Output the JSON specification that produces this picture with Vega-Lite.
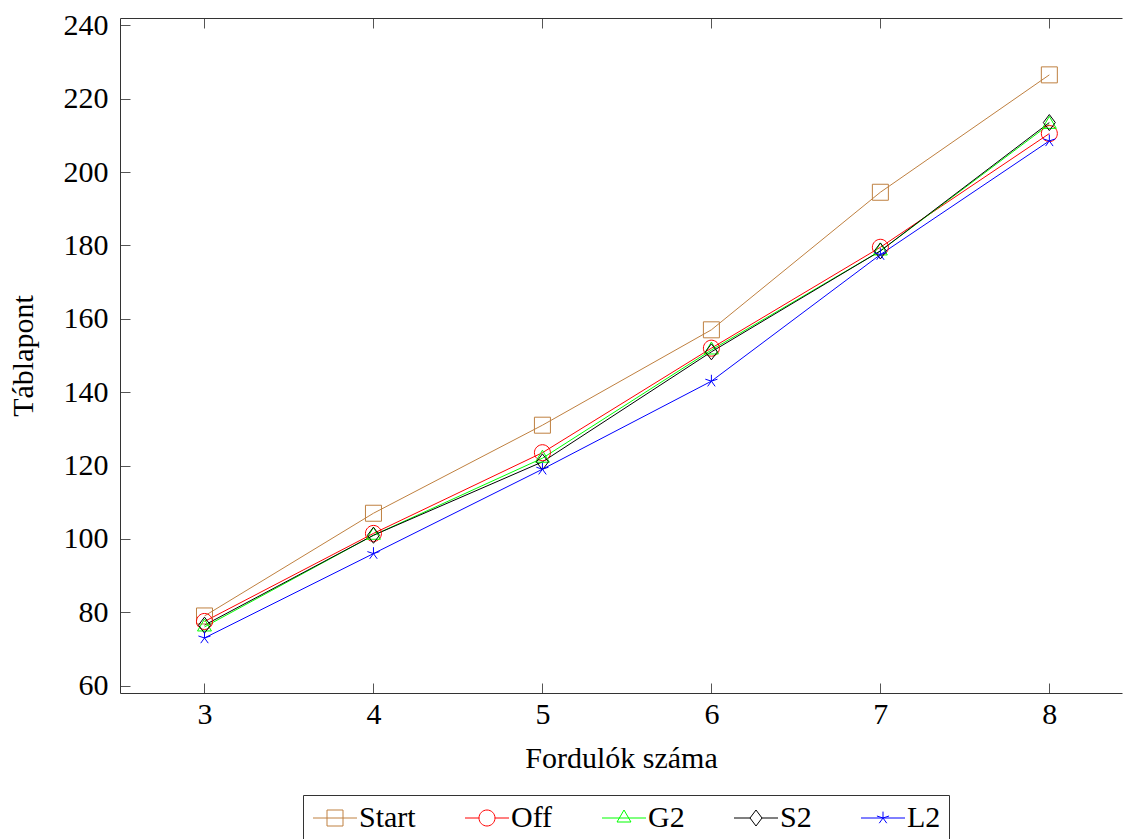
{
  "$schema": "https://vega.github.io/schema/vega-lite/v6.json",
  "width": 1002,
  "height": 675,
  "autosize": {"type": "none"},
  "padding": {"left": 120, "top": 18, "right": 1, "bottom": 146},
  "background": "white",
  "config": {
    "view": {"stroke": null},
    "font": "Liberation Serif",
    "axis": {
      "grid": false,
      "domainColor": "#333333",
      "domainWidth": 1,
      "tickColor": "#555555",
      "tickWidth": 1,
      "labelColor": "black",
      "titleColor": "black",
      "labelFontSize": 30,
      "titleFontSize": 30,
      "titleFontWeight": "normal",
      "labelFont": "Liberation Serif",
      "titleFont": "Liberation Serif"
    },
    "legend": {
      "labelFont": "Liberation Serif",
      "labelFontSize": 30,
      "labelColor": "black"
    }
  },
  "data": {
    "values": [
      {"x": 3, "series": "Start", "y": 79},
      {"x": 4, "series": "Start", "y": 107},
      {"x": 5, "series": "Start", "y": 131},
      {"x": 6, "series": "Start", "y": 157},
      {"x": 7, "series": "Start", "y": 194.5},
      {"x": 8, "series": "Start", "y": 226.5},
      {"x": 3, "series": "Off", "y": 77.5},
      {"x": 4, "series": "Off", "y": 101.5},
      {"x": 5, "series": "Off", "y": 123.5},
      {"x": 6, "series": "Off", "y": 152},
      {"x": 7, "series": "Off", "y": 179.5},
      {"x": 8, "series": "Off", "y": 210.5},
      {"x": 3, "series": "G2", "y": 76},
      {"x": 4, "series": "G2", "y": 101},
      {"x": 5, "series": "G2", "y": 122},
      {"x": 6, "series": "G2", "y": 151.5},
      {"x": 7, "series": "G2", "y": 178.5},
      {"x": 8, "series": "G2", "y": 213},
      {"x": 3, "series": "S2", "y": 76.5},
      {"x": 4, "series": "S2", "y": 101},
      {"x": 5, "series": "S2", "y": 121},
      {"x": 6, "series": "S2", "y": 151},
      {"x": 7, "series": "S2", "y": 178.5},
      {"x": 8, "series": "S2", "y": 213.5},
      {"x": 3, "series": "L2", "y": 73},
      {"x": 4, "series": "L2", "y": 96},
      {"x": 5, "series": "L2", "y": 119},
      {"x": 6, "series": "L2", "y": 143},
      {"x": 7, "series": "L2", "y": 177.5},
      {"x": 8, "series": "L2", "y": 208.5}
    ]
  },
  "layer": [
    {
      "mark": {"type": "line", "strokeWidth": 1},
      "encoding": {
        "x": {
          "field": "x", "type": "quantitative",
          "scale": {"domain": [2.5, 8.43], "nice": false, "zero": false},
          "axis": {
            "orient": "bottom",
            "values": [3, 4, 5, 6, 7, 8],
            "tickSize": -10,
            "labelPadding": 16,
            "labelFont": "Liberation Serif",
            "labelFontSize": 30,
            "title": "Fordulók száma",
            "titleBaseline": "alphabetic",
            "titleY": 74
          }
        },
        "y": {
          "field": "y", "type": "quantitative",
          "scale": {"domain": [58, 242], "nice": false, "zero": false},
          "axis": {
            "orient": "left",
            "values": [60, 80, 100, 120, 140, 160, 180, 200, 220, 240],
            "tickSize": -10,
            "labelPadding": 22,
            "labelFont": "Liberation Serif",
            "labelFontSize": 30,
            "title": "Táblapont",
            "titleBaseline": "alphabetic",
            "titleX": -88
          }
        },
        "color": {
          "field": "series", "type": "nominal",
          "scale": {
            "domain": ["Start", "Off", "G2", "S2", "L2"],
            "range": ["#bf8040", "#ff0000", "#00ff00", "#000000", "#0000ff"]
          },
          "legend": null
        }
      }
    },
    {
      "mark": {"type": "point", "filled": false, "strokeWidth": 1, "size": 256, "opacity": 1},
      "encoding": {
        "x": {
          "field": "x", "type": "quantitative",
          "axis": {
            "orient": "top",
            "values": [3, 4, 5, 6, 7, 8],
            "tickSize": -10,
            "labels": false,
            "title": null
          }
        },
        "y": {"field": "y", "type": "quantitative", "axis": null},
        "color": {
          "field": "series", "type": "nominal",
          "scale": {
            "domain": ["Start", "Off", "G2", "S2", "L2"],
            "range": ["#bf8040", "#ff0000", "#00ff00", "#000000", "#0000ff"]
          },
          "legend": null
        },
        "shape": {
          "field": "series", "type": "nominal",
          "scale": {
            "domain": ["Start", "Off", "G2", "S2", "L2"],
            "range": [
              "M-1,-1H1V1H-1Z",
              "M1,0A1,1 0 1,1 -1,0A1,1 0 1,1 1,0Z",
              "M0,-1L0.87,0.5L-0.87,0.5Z",
              "M0,-1L0.75,0L0,1L-0.75,0Z",
              "M0,0L0,-0.8M0,0L-0.76,-0.25M0,0L-0.47,0.65M0,0L0.47,0.65M0,0L0.76,-0.25"
            ]
          },
          "legend": null
        }
      }
    },
    {
      "transform": [{"filter": "datum.x > 100"}],
      "mark": {"type": "point", "filled": false, "strokeWidth": 1, "opacity": 1},
      "encoding": {
        "color": {
          "field": "series", "type": "nominal",
          "scale": {
            "domain": ["Start", "Off", "G2", "S2", "L2"],
            "range": ["#bf8040", "#ff0000", "#00ff00", "#000000", "#0000ff"]
          },
          "legend": {
            "orient": "none",
            "legendX": 183,
            "legendY": 777,
            "direction": "horizontal",
            "title": null,
            "symbolSize": 256,
            "symbolStrokeWidth": 1,
            "symbolOffset": 9,
            "labelOffset": 9,
            "columnPadding": 47,
            "padding": 8,
            "labelFont": "Liberation Serif",
            "labelFontSize": 30,
            "strokeColor": "#333333",
            "fillColor": "white"
          }
        },
        "shape": {
          "field": "series", "type": "nominal",
          "scale": {
            "domain": ["Start", "Off", "G2", "S2", "L2"],
            "range": [
              "M-2.75,0H2.75M-1,-1H1V1H-1Z",
              "M-2.75,0H-1M1,0H2.75M1,0A1,1 0 1,1 -1,0A1,1 0 1,1 1,0Z",
              "M-2.75,0H2.75M0,-1L0.87,0.5L-0.87,0.5Z",
              "M-2.75,0H-0.75M0.75,0H2.75M0,-1L0.75,0L0,1L-0.75,0Z",
              "M-2.75,0H2.75M0,0L0,-0.8M0,0L-0.76,-0.25M0,0L-0.47,0.65M0,0L0.47,0.65M0,0L0.76,-0.25"
            ]
          },
          "legend": {
            "orient": "none",
            "legendX": 183,
            "legendY": 777,
            "direction": "horizontal",
            "title": null,
            "symbolSize": 256,
            "symbolStrokeWidth": 1,
            "symbolOffset": 9,
            "labelOffset": 9,
            "columnPadding": 47,
            "padding": 8,
            "labelFont": "Liberation Serif",
            "labelFontSize": 30,
            "strokeColor": "#333333",
            "fillColor": "white"
          }
        }
      }
    }
  ],
  "resolve": {
    "scale": {"color": "independent", "shape": "independent"},
    "axis": {"x": "independent", "y": "independent"}
  }
}
